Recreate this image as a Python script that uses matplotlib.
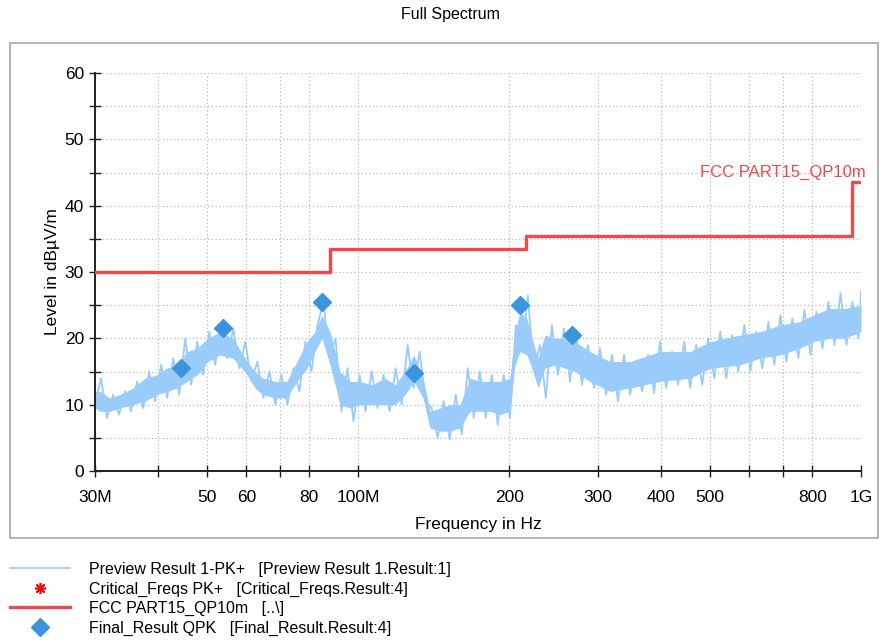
import matplotlib
import matplotlib.pyplot as plt
from matplotlib.lines import Line2D
from matplotlib.patches import Rectangle
from matplotlib.ticker import FixedLocator, NullFormatter
import numpy as np

matplotlib.use('Agg')
plt.rcParams['font.family'] = ['Liberation Sans', 'DejaVu Sans']

# preview trace, sweep points (MHz, dBuV/m)
sweep_freq = [30.0, 30.84, 31.70, 32.58, 33.49, 34.43, 35.39, 36.38, 37.39, 38.43,
              39.51, 40.61, 41.74, 42.91, 44.10, 45.34, 46.60, 47.90, 49.24, 50.61,
              52.02, 53.48, 54.97, 56.50, 58.08, 59.70, 61.37, 63.08, 64.84, 66.65,
              68.51, 70.42, 72.38, 74.40, 76.48, 78.61, 80.81, 83.06, 85.38, 87.76,
              90.21, 92.73, 95.31, 97.97, 100.7, 103.5, 106.4, 109.4, 112.4, 115.6,
              118.8, 122.1, 125.5, 129.0, 132.6, 136.3, 140.1, 144.0, 148.0, 152.2,
              156.4, 160.8, 165.3, 169.9, 174.6, 179.5, 184.5, 189.6, 194.9, 200.4,
              206.0, 211.7, 217.6, 223.7, 229.9, 236.3, 242.9, 249.7, 256.7, 263.9,
              271.2, 278.8, 286.6, 294.6, 302.8, 311.2, 319.9, 328.8, 338.0, 347.4,
              357.1, 367.1, 377.3, 387.8, 398.7, 409.8, 421.2, 433.0, 445.1, 457.5,
              470.3, 483.4, 496.9, 510.8, 525.0, 539.7, 554.7, 570.2, 586.1, 602.5,
              619.3, 636.6, 654.3, 672.6, 691.4, 710.7, 730.5, 750.9, 771.8, 793.4,
              815.5, 838.3, 861.7, 885.7, 910.4, 935.8, 961.9, 988.8, 1000.0]
sweep_level = [10.0, 14.0, 8.0, 11.5, 8.5, 12.0, 9.0, 13.5, 9.5, 15.0,
               10.5, 16.0, 11.0, 17.0, 11.5, 20.0, 13.0, 19.5, 14.5, 21.0,
               16.0, 22.0, 17.0, 21.5, 15.5, 19.5, 13.5, 16.5, 11.0, 15.0,
               10.0, 14.5, 10.0, 15.5, 12.0, 19.5, 15.0, 22.0, 25.5, 17.0,
               20.0, 9.0, 15.5, 7.5, 14.5, 9.0, 15.0, 9.5, 14.5, 9.0,
               15.5, 10.0, 19.0, 12.5, 18.0, 10.5, 9.5, 5.0, 10.5, 4.8,
               11.5, 5.5, 15.5, 8.0, 15.0, 8.0, 14.5, 7.0, 14.5, 8.0,
               22.0, 18.0, 26.5, 15.0, 19.0, 11.0, 22.0, 14.5, 21.5, 13.5,
               21.0, 13.0, 19.0, 12.5, 18.5, 11.5, 17.5, 10.5, 17.5, 11.5,
               16.5, 12.0, 17.5, 11.8, 19.5, 12.5, 18.0, 13.0, 19.5, 12.5,
               19.0, 13.0, 20.0, 14.0, 21.0, 14.0, 20.5, 15.0, 22.0, 15.0,
               21.0, 15.5, 22.5, 16.0, 23.5, 16.5, 23.0, 17.0, 24.3, 17.5,
               24.0, 18.5, 25.5, 19.0, 26.8, 19.0, 25.5, 20.0, 27.0]

# dense core of the same trace (MHz, low / high)
core_freq = [30.0, 30.7, 32.1, 33.6, 35.7, 37.7, 39.8, 41.7, 43.7, 45.7,
             47.9, 50.3, 53.2, 56.4, 60.2, 62.4, 64.7, 68.4, 72.2, 75.6,
             79.2, 82.1, 84.8, 88.0, 92.1, 96.4, 100.9, 106.6, 113.1, 118.5,
             124.0, 129.2, 134.7, 139.0, 145.6, 152.4, 159.5, 167.0, 174.8, 183.0,
             191.6, 200.5, 205.2, 209.9, 216.7, 222.8, 227.9, 235.3, 246.4, 257.9,
             270.0, 289.2, 317.0, 347.4, 398.4, 457.3, 501.0, 575.0, 630.0, 690.0,
             756.0, 803.0, 868.0, 929.0, 1000.0]
core_lo = [9.5, 9.0, 9.0, 9.5, 10.0, 10.5, 11.5, 12.0, 12.5, 13.5,
           14.5, 16.5, 17.5, 17.0, 14.5, 12.5, 11.5, 11.0, 11.0, 13.5,
           15.5, 18.0, 20.0, 16.0, 10.0, 9.5, 10.0, 10.0, 10.0, 10.0,
           11.5, 13.5, 11.0, 6.5, 6.0, 6.0, 6.5, 9.0, 9.0, 9.0,
           8.5, 9.0, 16.0, 18.0, 17.5, 15.0, 12.5, 15.5, 16.0, 15.5,
           15.0, 13.5, 12.0, 12.5, 13.5, 14.0, 15.5, 16.0, 17.0, 17.5,
           18.5, 19.5, 20.0, 20.0, 21.0]
core_hi = [12.0, 12.0, 11.0, 11.5, 12.5, 14.0, 14.5, 15.5, 16.0, 18.0,
           18.5, 20.0, 21.0, 20.0, 16.5, 15.0, 14.0, 13.5, 13.5, 16.5,
           19.5, 21.0, 23.5, 21.0, 15.0, 13.5, 13.5, 13.0, 14.0, 13.0,
           15.0, 17.5, 14.0, 9.0, 9.5, 10.0, 10.0, 14.0, 13.5, 13.5,
           13.5, 14.0, 21.0, 24.0, 23.0, 19.5, 17.0, 20.5, 20.0, 20.0,
           19.5, 18.0, 16.5, 16.5, 18.0, 18.0, 19.5, 20.5, 21.0, 22.0,
           22.5, 23.5, 24.5, 24.5, 25.0]

# FCC part 15 QP 10 m limit
limit_freq = [30, 88, 88, 216, 216, 960, 960, 1000]
limit_level = [30, 30, 33.5, 33.5, 35.5, 35.5, 43.5, 43.5]

# final QPK results
final_freq = [44.5, 53.9, 84.8, 129.3, 210.0, 266.0]
final_level = [15.5, 21.6, 25.5, 14.8, 25.0, 20.5]

x_ticks = [30, 40, 50, 60, 70, 80, 100, 200, 300, 400, 500, 600, 700, 800, 1000]
x_labels = ['30M', '', '50', '60', '', '80', '100M', '200', '300', '400', '500', '', '', '800', '1G']

blue = '#99cbfb'
red = '#f44848'
dia = '#3a95dc'

fig = plt.figure(figsize=(8.81, 6.43), dpi=100)
ax = fig.add_axes([95 / 881, 1 - 471 / 643, 766 / 881, 398 / 643])

ax.fill_between(core_freq, core_lo, core_hi, color=blue, lw=0, zorder=2)
ax.plot(sweep_freq, sweep_level, color=blue, lw=1.3, zorder=2)
ax.plot(limit_freq, limit_level, color=red, lw=2.4, zorder=3)
ax.plot(final_freq, final_level, 'D', color=dia, ms=9, mec=dia, zorder=4)
ax.text(1.0065, 45, 'FCC PART15_QP10m', color=red, fontsize=12, ha='right', va='center',
        transform=ax.get_yaxis_transform())

ax.set_xscale('log')
ax.set_xlim(30, 1000)
ax.set_ylim(0, 60)
ax.xaxis.set_major_locator(FixedLocator(x_ticks))
ax.set_xticklabels(x_labels)
ax.xaxis.set_minor_locator(FixedLocator([]))
ax.xaxis.set_minor_formatter(NullFormatter())
ax.set_yticks(np.arange(0, 61, 10))
ax.set_yticks(np.arange(5, 60, 10), minor=True)

ax.tick_params(axis='both', which='both', direction='inout', length=8, width=1, color='#202020', labelsize=12.5)
ax.tick_params(axis='x', pad=9.5)
ax.tick_params(axis='y', pad=4)

ax.grid(True, which='both', color='#b8b8b8', linestyle=(0, (1, 2)), lw=0.9)
for s in ['top', 'right']:
    ax.spines[s].set_visible(False)
for s in ['left', 'bottom']:
    ax.spines[s].set_color('#202020')
    ax.spines[s].set_linewidth(1.4)

ax.set_xlabel('Frequency in Hz', fontsize=12.5, labelpad=8.5)
ax.set_ylabel('Level in dBµV/m', fontsize=12.5, labelpad=3.5)

fig.text(450 / 881, 1 - 14 / 643, 'Full Spectrum', ha='center', va='center', fontsize=11.5)
fig.patches.append(Rectangle((10 / 881, 1 - 538 / 643), 868 / 881, 495 / 643,
                             transform=fig.transFigure, fill=False, ec='#a8a8a8', lw=1.2))

handles = [
    Line2D([], [], color=blue, lw=1.2),
    Line2D([], [], color='red', ls='none', marker=(8, 2, 0), ms=8, mew=1.2),
    Line2D([], [], color=red, lw=2.4),
    Line2D([], [], color=dia, ls='none', marker='D', ms=9),
]
labels = [
    'Preview Result 1-PK+   [Preview Result 1.Result:1]',
    'Critical_Freqs PK+   [Critical_Freqs.Result:4]',
    'FCC PART15_QP10m   [..\\]',
    'Final_Result QPK   [Final_Result.Result:4]',
]
fig.legend(handles, labels, loc='upper left', bbox_to_anchor=(10 / 881, 1 - 562 / 643),
           frameon=False, fontsize=11.5, handlelength=3.75, handletextpad=1.2,
           labelspacing=0.28, borderpad=0, borderaxespad=0)

plt.savefig('out.png', dpi=100)
